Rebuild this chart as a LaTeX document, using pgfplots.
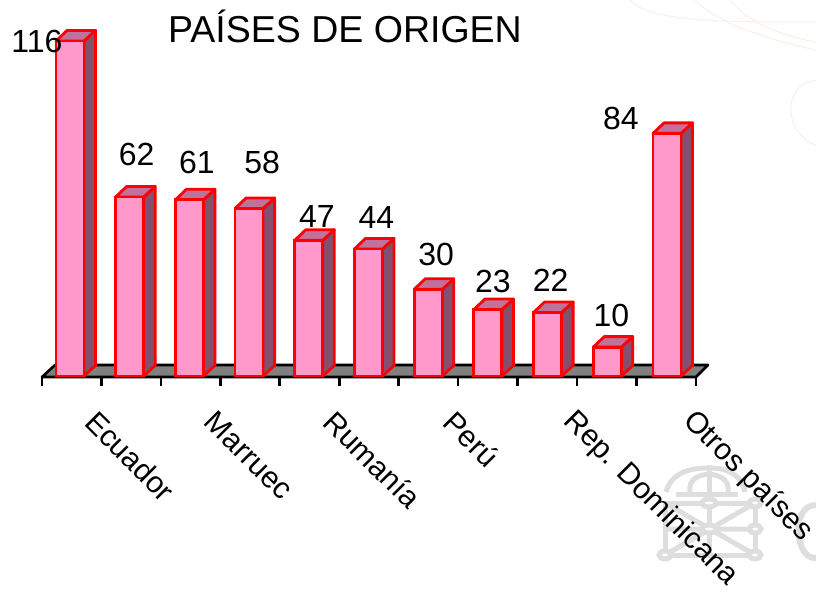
\documentclass[border=0pt]{standalone}
\usepackage{fontspec}
\setmainfont{Liberation Sans}
\usepackage{pgfplots}
\pgfplotsset{compat=1.18}
\definecolor{barfront}{HTML}{FF99CC}
\definecolor{barside}{HTML}{845070}
\definecolor{bartop}{HTML}{C0729C}
\definecolor{wm}{HTML}{DEDEDE}
\definecolor{wmtop}{HTML}{F8EFE8}
\newcommand{\threeDbar}[2]{%
  \pgfmathsetmacro{\xr}{#1+0.2345}%
  \pgfmathsetmacro{\xl}{#1-0.2345}%
  \pgfmathsetmacro{\xrb}{#1+0.4272}%
  \pgfmathsetmacro{\xlb}{#1-0.0502}%
  \pgfmathsetmacro{\yb}{#2+3.64}%
  \addplot[fill=barside,draw=red,line width=2.8pt,line join=round] coordinates {(\xr,0) (\xrb,3.64) (\xrb,\yb) (\xr,#2)} --cycle;
  \addplot[fill=bartop,draw=red,line width=2.8pt,line join=round] coordinates {(\xl,#2) (\xlb,\yb) (\xrb,\yb) (\xr,#2)} --cycle;
}
\begin{document}
\begin{tikzpicture}
\useasboundingbox (0pt,0pt) rectangle (816pt,592pt);
% faint watermark behind the chart
\begin{scope}[x=1pt,y=-1pt,shift={(0pt,592pt)}]
  \draw[wmtop,line width=1pt] (630,0) .. controls (650,22) and (720,22) .. (816,22);
  \draw[wmtop,line width=1pt] (695,0) .. controls (720,25) and (770,40) .. (816,50);
  \draw[wmtop,line width=1pt] (730,0) .. controls (750,25) and (790,38) .. (816,42);
  \draw[wmtop,line width=1pt] (816,80) .. controls (780,85) and (785,135) .. (816,145);
  \begin{scope}[wm,line width=5pt]
    \draw (666,492) .. controls (672,470) and (695,468) .. (709,468) .. controls (725,468) and (740,472) .. (745,492);
    \draw (690,492) .. controls (688,478) and (700,475) .. (709,474) .. controls (720,475) and (730,480) .. (728,492);
    \draw (709,465) -- (709,492);
    \draw (676,494) -- (738,494);
    \draw (665,503) -- (755,503) (665,555) -- (755,555);
    \draw (665,503) -- (665,555) (755,503) -- (755,555) (709,503) -- (709,555);
    \draw (665,503) -- (755,555) (755,503) -- (665,555) (665,529) -- (755,529);
    \draw[fill=white] (709,503) ellipse (7 and 4) (755,503) ellipse (6 and 4) (709,529) ellipse (7 and 4) (755,529) ellipse (6 and 4) (665,555) ellipse (6 and 4) (755,555) ellipse (6 and 4);
    \draw[line width=6pt] (816,505) .. controls (790,505) and (795,560) .. (816,558);
  \end{scope}
\end{scope}
\begin{axis}[
  at={(0pt,0pt)},anchor=south west,
  scale only axis,width=816pt,height=592pt,
  hide axis,clip=false,
  xmin=-1.1725,xmax=12.496,
  ymin=-74.79,ymax=130.19,
  unbounded coords=jump,
]
% floor
\addplot[fill=gray,draw=black,line width=2.6pt,line join=round,no marks] coordinates {(-0.469,-0.346) (-0.251,3.81) (10.687,3.81) (10.486,-0.346)} --cycle;
% tick marks
\addplot[black,line width=2.6pt,no marks] coordinates {
(-0.469,-0.346)(-0.469,-3.46)(0,nan)
(0.527,-0.346)(0.527,-3.46)(0,nan)
(1.522,-0.346)(1.522,-3.46)(0,nan)
(2.518,-0.346)(2.518,-3.46)(0,nan)
(3.514,-0.346)(3.514,-3.46)(0,nan)
(4.510,-0.346)(4.510,-3.46)(0,nan)
(5.505,-0.346)(5.505,-3.46)(0,nan)
(6.501,-0.346)(6.501,-3.46)(0,nan)
(7.497,-0.346)(7.497,-3.46)(0,nan)
(8.493,-0.346)(8.493,-3.46)(0,nan)
(9.490,-0.346)(9.490,-3.46)(0,nan)
(10.486,-0.346)(10.486,-3.46)
};
% sides and tops
\threeDbar{0}{116}
\threeDbar{1}{62}
\threeDbar{2}{61}
\threeDbar{3}{58}
\threeDbar{4}{47}
\threeDbar{5}{44}
\threeDbar{6}{30}
\threeDbar{7}{23}
\threeDbar{8}{22}
\threeDbar{9}{10}
\threeDbar{10}{84}
% fronts
\addplot[ybar,bar width=28pt,bar shift=0pt,fill=barfront,draw=red,line width=2.8pt] coordinates {
(0,116)(1,62)(2,61)(3,58)(4,47)(5,44)(6,30)(7,23)(8,22)(9,10)(10,84)};
% title
\node[font=\fontsize{37.5}{42}\selectfont,text=black] at (rel axis cs:0.4228,0.9555) {PAÍSES DE ORIGEN};
% value labels
\tikzset{vl/.style={font=\fontsize{32}{36}\selectfont,text=black}}
\node[vl,xshift=-33pt,yshift=-1pt] at (axis cs:0,116) {116};
\node[vl,xshift=7pt,yshift=42pt] at (axis cs:1,62) {62};
\node[vl,xshift=7.5pt,yshift=37pt] at (axis cs:2,61) {61};
\node[vl,xshift=13pt,yshift=46pt] at (axis cs:3,58) {58};
\node[vl,xshift=8pt,yshift=24pt] at (axis cs:4,47) {47};
\node[vl,xshift=8pt,yshift=31pt] at (axis cs:5,44) {44};
\node[vl,xshift=8pt,yshift=35pt] at (axis cs:6,30) {30};
\node[vl,xshift=5pt,yshift=28pt] at (axis cs:7,23) {23};
\node[vl,xshift=3pt,yshift=32pt] at (axis cs:8,22) {22};
\node[vl,xshift=4pt,yshift=32pt] at (axis cs:9,10) {10};
\node[vl,xshift=-46pt,yshift=15pt] at (axis cs:10,84) {84};
% category labels
\tikzset{cl/.style={font=\fontsize{30}{36}\selectfont,text=black,rotate=-45,anchor=west,xshift=29pt,inner sep=0pt}}
\node[cl] at (axis cs:0,-6.9) {Ecuador};
\node[cl] at (axis cs:2,-6.9) {Marruec};
\node[cl] at (axis cs:4,-6.9) {Rumanía};
\node[cl] at (axis cs:6,-6.9) {Perú};
\node[cl] at (axis cs:8,-6.9) {Rep. Dominicana};
\node[cl] at (axis cs:10,-6.9) {Otros países};
\end{axis}
\end{tikzpicture}
\end{document}
